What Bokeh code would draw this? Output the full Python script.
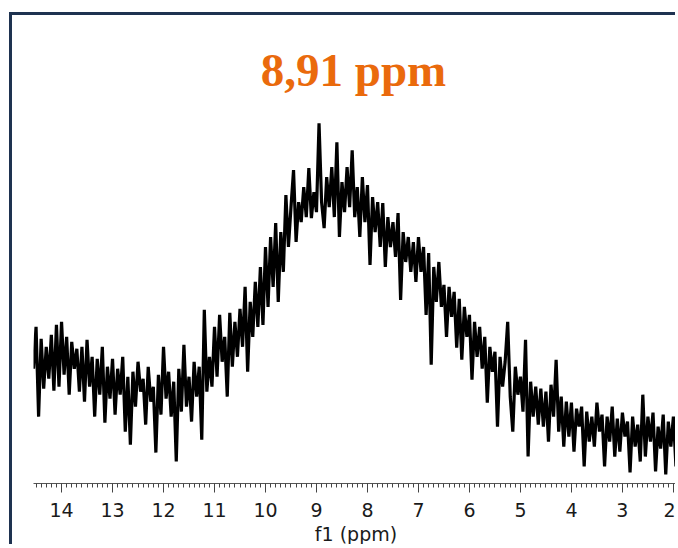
import numpy as np
from bokeh.plotting import figure
from bokeh.models import Range1d, SingleIntervalTicker, Label
from bokeh.embed import file_html
from bokeh.resources import INLINE

# ---- data -----------------------------------------------------------------
ppm_start = 14.55      # first sampled chemical shift (ppm)
ppm_step = 0.05        # sampling step (ppm)

intensity = [
    118, 160, 70, 148, 98, 140, 108, 152, 96, 162,
    100, 165, 112, 150, 92, 145, 118, 138, 95, 140,
    85, 147, 100, 130, 70, 128, 92, 140, 64, 120,
    88, 128, 72, 118, 92, 130, 55, 110, 42, 115,
    80, 125, 95, 108, 62, 120, 85, 100, 34, 112,
    72, 140, 88, 115, 70, 105, 25, 118, 75, 142,
    80, 110, 65, 125, 90, 120, 47, 177, 95, 130,
    100, 160, 110, 172, 125, 150, 90, 174, 120, 165,
    130, 178, 140, 200, 115, 185, 150, 205, 160, 220,
    162, 240, 180, 250, 200, 264, 185, 255, 215, 292,
    240, 280, 317, 245, 285, 265, 300, 270, 319, 269,
    295, 275, 364, 285, 259, 310, 280, 320, 270, 345,
    250, 305, 275, 320, 280, 337, 270, 300, 250, 310,
    265, 302, 222, 290, 255, 285, 240, 284, 220, 270,
    240, 265, 230, 274, 187, 255, 225, 250, 215, 245,
    205, 250, 215, 240, 172, 234, 122, 220, 185, 225,
    180, 202, 150, 200, 170, 195, 139, 188, 127, 180,
    150, 172, 107, 165, 130, 160, 118, 150, 84, 140,
    115, 135, 60, 130, 100, 125, 165, 90, 55, 120,
    92, 110, 75, 147, 30, 105, 70, 100, 62, 98,
    60, 95, 45, 102, 70, 127, 55, 90, 40, 85,
    50, 84, 35, 78, 60, 80, 20, 75, 45, 70,
    40, 84, 55, 72, 20, 70, 45, 80, 30, 68,
    35, 74, 50, 65, 14, 70, 40, 62, 25, 92,
    30, 70, 45, 74, 15, 60, 38, 72, 12, 65, 40, 70, 20,
]

title_text = "8,91 ppm"
x_label = "f1 (ppm)"

ppm = ppm_start - ppm_step * np.arange(len(intensity))

# ---- figure -----------------------------------------------------------------
p = figure(
    width=666, height=532,
    x_range=Range1d(14.55, 1.90),
    y_range=Range1d(3, 472),
    output_backend="svg",
    toolbar_location=None,
    y_axis_location=None,
    min_border_left=21, min_border_right=0,
    min_border_top=0, min_border_bottom=63,
    background_fill_color="white",
    border_fill_color="white",
    outline_line_color=None,
)
p.styles = {
    "border-top": "3px solid #1E3250",
    "border-left": "3px solid #1E3250",
    "margin-top": "12px",
    "margin-left": "9px",
}
p.grid.visible = False

p.line(ppm, intensity, line_color="black", line_width=3.2)

ax = p.xaxis[0]
ax.ticker = SingleIntervalTicker(interval=1, num_minor_ticks=10)
ax.axis_label = x_label
ax.axis_line_color = "#555555"
ax.major_tick_line_color = "#444444"
ax.minor_tick_line_color = "#444444"
ax.major_tick_in = 0
ax.major_tick_out = 9
ax.minor_tick_in = 0
ax.minor_tick_out = 4
ax.major_label_text_font = "DejaVu Sans"
ax.major_label_text_font_size = "19px"
ax.major_label_text_color = "#1a1a1a"
ax.major_label_standoff = 10
ax.axis_label_text_font = "DejaVu Sans"
ax.axis_label_text_font_size = "19px"
ax.axis_label_text_font_style = "normal"
ax.axis_label_text_color = "#1a1a1a"
ax.axis_label_standoff = 3

p.add_layout(Label(
    x=320, y=414, x_units="screen", y_units="screen",
    text=title_text, text_font="Liberation Serif", text_font_style="bold",
    text_font_size="47px", text_color="#EA6A0C",
    text_align="center", text_baseline="alphabetic",
))

open("out.html", "w").write(file_html(p, INLINE))
